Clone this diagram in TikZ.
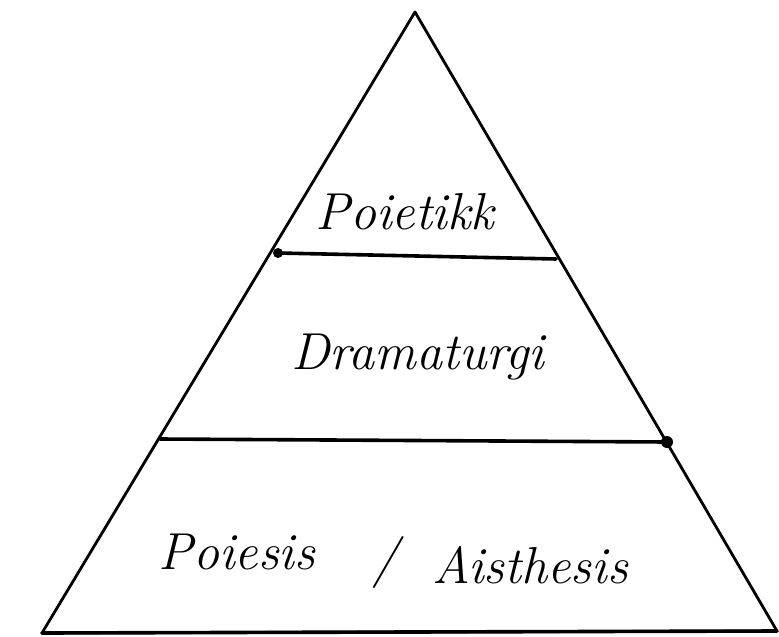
\documentclass[tikz,border=0pt]{standalone}
\usepackage{amsmath}
\tikzset{
  edge/.style={line width=2.8pt, line join=round, line cap=round},
  level/.style={font=\fontsize{52}{60}\selectfont\itshape, inner sep=0pt},
}

\begin{document}
\begin{tikzpicture}[x=1pt, y=-1pt]
    \useasboundingbox (0,0) rectangle (779,637);

    \coordinate (top) at (415,12);
    \coordinate (bl) at (42,633);
    \coordinate (br) at (777,631);
    \coordinate (u1) at (278,253);
    \coordinate (u2) at (556,259);
    \coordinate (m1) at (160,439);
    \coordinate (m2) at (667,442);

    \draw[edge] (bl) -- (top) -- (br) -- cycle;
    \draw[edge, line width=3.6pt] (bl) -- (br);
    \draw[edge, line width=3.6pt] (u1) -- (u2);
    \draw[edge, line width=3.6pt] (m1) -- (m2);

    \fill (u1) circle (5pt);
    \fill (m2) circle (6pt);

    \node[level] (poietikk) at (405,212) {Poietikk};
    \node[level] (dramaturgi) at (418,357) {Dramaturgi};
    \node[level] (poiesis) at (237,552) {Poiesis};
    \node[level] (slash) at (385,562) {/};
    \node[level] (aisthesis) at (530,565) {Aisthesis};
\end{tikzpicture}
\end{document}
